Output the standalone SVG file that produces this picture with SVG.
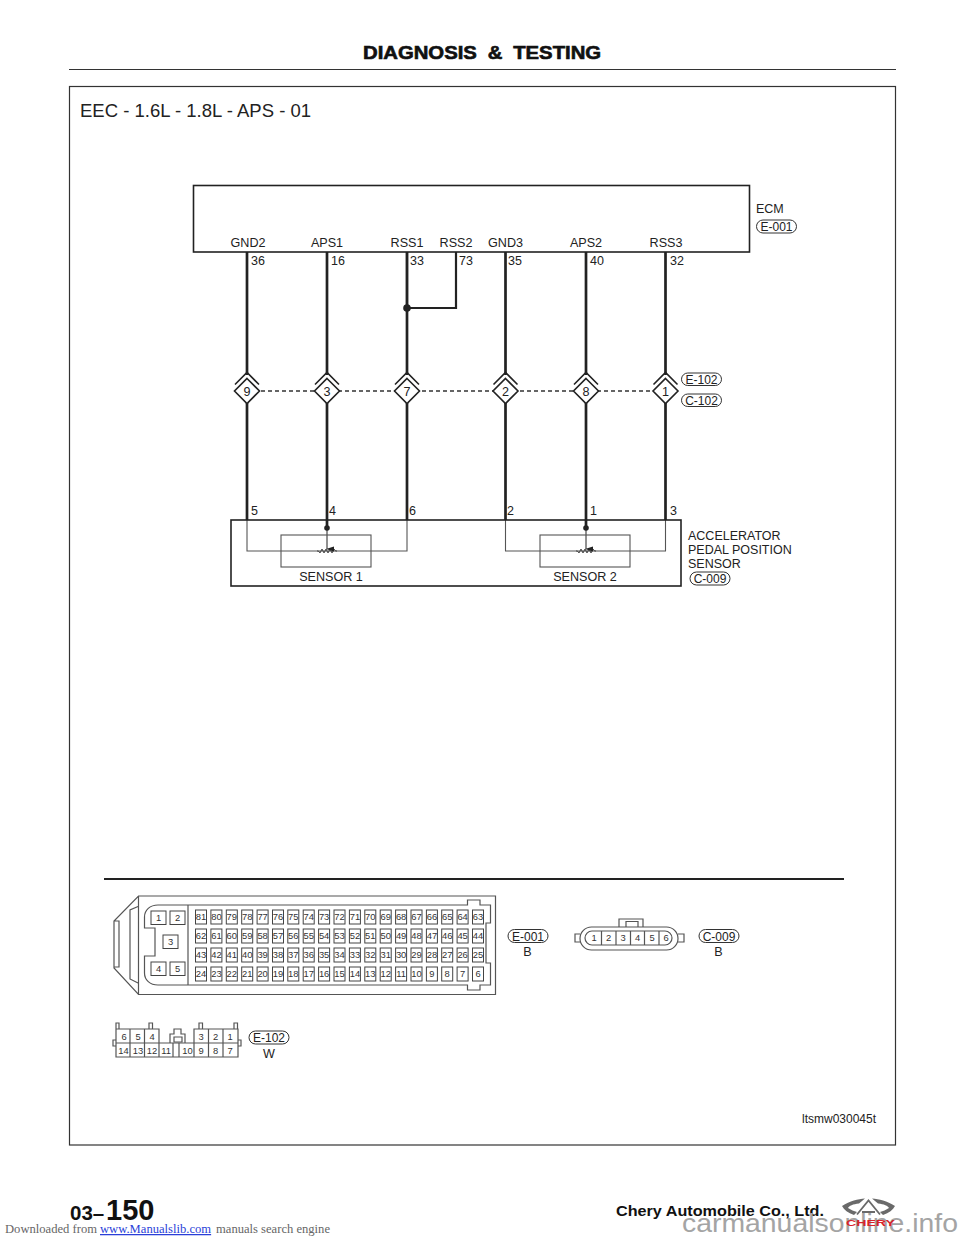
<svg xmlns="http://www.w3.org/2000/svg" width="960" height="1242" viewBox="0 0 960 1242">
<style>
text{font-family:"Liberation Sans",Arial,sans-serif;fill:#222}
.l{font-size:12.5px}
.p{font-size:9.4px;text-anchor:middle;fill:#333}
.m{font-size:12.6px;text-anchor:middle}
.q{font-size:12px;text-anchor:middle}
.w{fill:none;stroke:#222;stroke-width:2.700}
.t{fill:none;stroke:#333;stroke-width:1}
.g{fill:none;stroke:#555;stroke-width:1.1}
.d{fill:#fff;stroke:#222;stroke-width:1.6}
.c{fill:none;stroke:#222;stroke-width:1.6}
.b{fill:#fff;stroke:#444;stroke-width:1}
.f{fill:none;stroke:#555;stroke-width:1.2}
</style>
<defs>
<rect id="pin" x="-5.5" y="-7" width="11" height="14" class="b"/>
<path id="dia" d="M0-12.5 12.5 0 0 12.5-12.5 0Z" class="d"/>
<path id="chev" d="M-12-6.500-.0-18.500 12-6.500" class="c"/>
<marker id="ah" markerUnits="userSpaceOnUse" markerWidth="6" markerHeight="8" refX="3" refY="7" orient="auto"><path d="M.5 0H5.500L3 8Z" fill="#222"/></marker>
</defs>
<rect width="960" height="1242" fill="#fff"/>
<g id="page">
<text transform="translate(363 58.500) scale(1.160 1)" font-size="17.500" font-weight="700" word-spacing="4.500" stroke="#111" stroke-width=".6" style="fill:#111">DIAGNOSIS &amp; TESTING</text>
<path d="M69 69.500H896" stroke="#333" stroke-width="1.200"/>
<rect x="69.500" y="86.500" width="826" height="1058.500" fill="none" stroke="#333" stroke-width="1.200"/>
<text x="80" y="117" font-size="18.500">EEC - 1.6L - 1.8L - APS - 01</text>
<path d="M104 879H844" stroke="#222" stroke-width="2"/>
<text x="802" y="1123" font-size="12">ltsmw030045t</text>
<text x="70" y="1220" font-size="20.500" font-weight="700" style="fill:#111">03–</text>
<text x="106" y="1220" font-size="29" font-weight="700" style="fill:#111">150</text>
<text x="616" y="1216" font-size="14.500" font-weight="700" style="fill:#111" textLength="208" lengthAdjust="spacingAndGlyphs">Chery Automobile Co., Ltd.</text>
<text x="5" y="1233" font-size="12.600" style="font-family:'Liberation Serif',serif;fill:#666">Downloaded from</text>
<text x="100" y="1233" font-size="12.600" style="font-family:'Liberation Serif',serif;fill:#2a3fd8" text-decoration="underline">www.Manualslib.com</text>
<text x="216" y="1233" font-size="12.600" style="font-family:'Liberation Serif',serif;fill:#666">manuals search engine</text>
</g>
<text x="682" y="1232" font-size="26.500" textLength="276" lengthAdjust="spacingAndGlyphs" style="fill:#a4a4a4">carmanualsonline.info</text>
<g id="logo">
<path d="M842 1206C850 1201 858 1199 865 1198.500L859 1203.500C853 1204 849 1206 848 1208 851 1210 854 1211 857 1212L854 1215C848 1213 844 1210 842 1206ZM895 1206C887 1201 879 1199 872 1198.500L878 1203.500C884 1204 888 1206 889 1208 886 1210 883 1211 880 1212L883 1215C889 1213 893 1210 895 1206Z" fill="#6a6a6a"/>
<path d="M857 1214.500 868.500 1200.500 880 1214.500M862 1212H875" fill="none" stroke="#6a6a6a" stroke-width="1.800"/>
<text x="846" y="1226" font-size="9.500" font-weight="700" textLength="49" lengthAdjust="spacingAndGlyphs" style="fill:#d8232a">CHERY</text>
</g>
<g id="connectors">
<path class="w" d="M247 252V375M327 252V375M407 252V375M505.500 252V375M586 252V375M665.500 252V375M247 403V520M327 403V528M407 403V520M505.500 403V520M586 403V528M665.500 403V520"/>
<path d="M407 252V308H456V252" fill="none" stroke="#222" stroke-width="2.200"/>
<circle cx="407" cy="308" r="3.800" fill="#222"/>
<path d="M247 391H665" fill="none" stroke="#333" stroke-width="1.300" stroke-dasharray="4 3"/>
<path class="g" d="M247 520V551H407V520M505.500 520V551H665.500V520"/>
<circle cx="327" cy="528" r="2.800" fill="#222"/>
<circle cx="586" cy="528" r="2.800" fill="#222"/>
<path d="M327 528V549" fill="none" stroke="#222" stroke-width="1" marker-end="url(#ah)"/>
<path d="M586 528V549" fill="none" stroke="#222" stroke-width="1" marker-end="url(#ah)"/>
</g>
<g id="ecm">
<rect x="193.500" y="185.500" width="556" height="66.500" fill="none" stroke="#222" stroke-width="1.600"/>
<text class="m" x="248" y="247">GND2</text><text class="m" x="327" y="247">APS1</text><text class="m" x="407" y="247">RSS1</text><text class="m" x="456" y="247">RSS2</text><text class="m" x="505.500" y="247">GND3</text><text class="m" x="586" y="247">APS2</text><text class="m" x="666" y="247">RSS3</text>
<text class="l" x="251" y="265">36</text><text class="l" x="331" y="265">16</text><text class="l" x="410" y="265">33</text><text class="l" x="459" y="265">73</text><text class="l" x="508" y="265">35</text><text class="l" x="590" y="265">40</text><text class="l" x="670" y="265">32</text>
<text class="l" x="756" y="213">ECM</text>
<rect x="756.500" y="220" width="40" height="13" rx="6.500" class="t"/><text class="q" x="776.500" y="231">E-001</text>
</g>
<g id="j9"><use href="#chev" x="247" y="391"/><use href="#dia" x="247" y="391"/><text class="m" x="247" y="396">9</text></g>
<g id="j3"><use href="#chev" x="327" y="391"/><use href="#dia" x="327" y="391"/><text class="m" x="327" y="396">3</text></g>
<g id="j7"><use href="#chev" x="407" y="391"/><use href="#dia" x="407" y="391"/><text class="m" x="407" y="396">7</text></g>
<g id="j2"><use href="#chev" x="505.500" y="391"/><use href="#dia" x="505.500" y="391"/><text class="m" x="505.500" y="396">2</text></g>
<g id="j8"><use href="#chev" x="586" y="391"/><use href="#dia" x="586" y="391"/><text class="m" x="586" y="396">8</text></g>
<g id="j1"><use href="#chev" x="665.500" y="391"/><use href="#dia" x="665.500" y="391"/><text class="m" x="665.500" y="396">1</text></g>
<g id="e102-label"><rect x="681.500" y="373" width="40" height="12.500" rx="6.250" class="t"/><text class="q" x="701.500" y="383.700">E-102</text></g>
<g id="c102-label"><rect x="681.500" y="394" width="40" height="12.500" rx="6.250" class="t"/><text class="q" x="701.500" y="404.700">C-102</text></g>
<g id="aps">
<rect x="231" y="520" width="450" height="66" fill="none" stroke="#222" stroke-width="1.600"/>
<rect x="281" y="535" width="90" height="32" class="g"/>
<rect x="540" y="535" width="90" height="32" class="g"/>
<path d="M317 551h1.500l1.500 2 2-4 2 4 2-4 2 4 2-4 2 4 2-4 1.500 2h1.500M576 551h1.500l1.500 2 2-4 2 4 2-4 2 4 2-4 2 4 2-4 1.500 2h1.500" fill="none" stroke="#222" stroke-width=".8"/>
<text class="l" x="251" y="515">5</text><text class="l" x="329" y="515">4</text><text class="l" x="409" y="515">6</text><text class="l" x="507" y="515">2</text><text class="l" x="590" y="515">1</text><text class="l" x="670" y="515">3</text>
<text class="m" x="331" y="581">SENSOR 1</text><text class="m" x="585" y="581">SENSOR 2</text>
<text class="l" x="688" y="540">ACCELERATOR</text><text class="l" x="688" y="554">PEDAL POSITION</text><text class="l" x="688" y="568">SENSOR</text>
<rect x="690" y="572" width="40" height="13" rx="6.500" class="t"/><text class="q" x="710" y="583">C-009</text>
</g>
<g id="conn-e001">
<path class="f" d="M138.500 896H495.500V994.500H138.500L114 968V921L138.500 896ZM138.500 896V994.500M114 921H119V967H114M138 906.500L130 910V979L138 983"/>
<path class="f" d="M158 905H467.500V900H480V905H490.500V923H486V963H490.500V985H480V990H467.500V985H158C150 985 144.500 980 144.500 973V956H155V928H144.500V917C144.500 910 150 905 158 905ZM188 905V985"/>
<g class="b">
<rect x="151" y="911" width="15" height="13.500"/><rect x="170" y="911" width="15" height="13.500"/><rect x="163" y="935" width="15" height="13.500"/><rect x="151" y="962" width="15" height="13.500"/><rect x="170" y="962" width="15" height="13.500"/>
</g>
<text class="p" x="158.500" y="921">1</text><text class="p" x="177.500" y="921">2</text><text class="p" x="170.500" y="945">3</text><text class="p" x="158.500" y="972">4</text><text class="p" x="177.500" y="972">5</text>
<g id="pins-boxes">
<use href="#pin" x="201" y="917"/><use href="#pin" x="216.400" y="917"/><use href="#pin" x="231.800" y="917"/><use href="#pin" x="247.200" y="917"/><use href="#pin" x="262.600" y="917"/><use href="#pin" x="278" y="917"/><use href="#pin" x="293.300" y="917"/><use href="#pin" x="308.700" y="917"/><use href="#pin" x="324.100" y="917"/><use href="#pin" x="339.500" y="917"/><use href="#pin" x="354.900" y="917"/><use href="#pin" x="370.300" y="917"/><use href="#pin" x="385.700" y="917"/><use href="#pin" x="401.100" y="917"/><use href="#pin" x="416.500" y="917"/><use href="#pin" x="431.900" y="917"/><use href="#pin" x="447.200" y="917"/><use href="#pin" x="462.600" y="917"/><use href="#pin" x="478" y="917"/>
<use href="#pin" x="201" y="936"/><use href="#pin" x="216.400" y="936"/><use href="#pin" x="231.800" y="936"/><use href="#pin" x="247.200" y="936"/><use href="#pin" x="262.600" y="936"/><use href="#pin" x="278" y="936"/><use href="#pin" x="293.300" y="936"/><use href="#pin" x="308.700" y="936"/><use href="#pin" x="324.100" y="936"/><use href="#pin" x="339.500" y="936"/><use href="#pin" x="354.900" y="936"/><use href="#pin" x="370.300" y="936"/><use href="#pin" x="385.700" y="936"/><use href="#pin" x="401.100" y="936"/><use href="#pin" x="416.500" y="936"/><use href="#pin" x="431.900" y="936"/><use href="#pin" x="447.200" y="936"/><use href="#pin" x="462.600" y="936"/><use href="#pin" x="478" y="936"/>
<use href="#pin" x="201" y="955"/><use href="#pin" x="216.400" y="955"/><use href="#pin" x="231.800" y="955"/><use href="#pin" x="247.200" y="955"/><use href="#pin" x="262.600" y="955"/><use href="#pin" x="278" y="955"/><use href="#pin" x="293.300" y="955"/><use href="#pin" x="308.700" y="955"/><use href="#pin" x="324.100" y="955"/><use href="#pin" x="339.500" y="955"/><use href="#pin" x="354.900" y="955"/><use href="#pin" x="370.300" y="955"/><use href="#pin" x="385.700" y="955"/><use href="#pin" x="401.100" y="955"/><use href="#pin" x="416.500" y="955"/><use href="#pin" x="431.900" y="955"/><use href="#pin" x="447.200" y="955"/><use href="#pin" x="462.600" y="955"/><use href="#pin" x="478" y="955"/>
<use href="#pin" x="201" y="974"/><use href="#pin" x="216.400" y="974"/><use href="#pin" x="231.800" y="974"/><use href="#pin" x="247.200" y="974"/><use href="#pin" x="262.600" y="974"/><use href="#pin" x="278" y="974"/><use href="#pin" x="293.300" y="974"/><use href="#pin" x="308.700" y="974"/><use href="#pin" x="324.100" y="974"/><use href="#pin" x="339.500" y="974"/><use href="#pin" x="354.900" y="974"/><use href="#pin" x="370.300" y="974"/><use href="#pin" x="385.700" y="974"/><use href="#pin" x="401.100" y="974"/><use href="#pin" x="416.500" y="974"/><use href="#pin" x="431.900" y="974"/><use href="#pin" x="447.200" y="974"/><use href="#pin" x="462.600" y="974"/><use href="#pin" x="478" y="974"/>
</g>
<g id="pins-text">
<text class="p" x="201" y="920.300">81</text><text class="p" x="216.400" y="920.300">80</text><text class="p" x="231.800" y="920.300">79</text><text class="p" x="247.200" y="920.300">78</text><text class="p" x="262.600" y="920.300">77</text><text class="p" x="278" y="920.300">76</text><text class="p" x="293.300" y="920.300">75</text><text class="p" x="308.700" y="920.300">74</text><text class="p" x="324.100" y="920.300">73</text><text class="p" x="339.500" y="920.300">72</text><text class="p" x="354.900" y="920.300">71</text><text class="p" x="370.300" y="920.300">70</text><text class="p" x="385.700" y="920.300">69</text><text class="p" x="401.100" y="920.300">68</text><text class="p" x="416.500" y="920.300">67</text><text class="p" x="431.900" y="920.300">66</text><text class="p" x="447.200" y="920.300">65</text><text class="p" x="462.600" y="920.300">64</text><text class="p" x="478" y="920.300">63</text>
<text class="p" x="201" y="939.300">62</text><text class="p" x="216.400" y="939.300">61</text><text class="p" x="231.800" y="939.300">60</text><text class="p" x="247.200" y="939.300">59</text><text class="p" x="262.600" y="939.300">58</text><text class="p" x="278" y="939.300">57</text><text class="p" x="293.300" y="939.300">56</text><text class="p" x="308.700" y="939.300">55</text><text class="p" x="324.100" y="939.300">54</text><text class="p" x="339.500" y="939.300">53</text><text class="p" x="354.900" y="939.300">52</text><text class="p" x="370.300" y="939.300">51</text><text class="p" x="385.700" y="939.300">50</text><text class="p" x="401.100" y="939.300">49</text><text class="p" x="416.500" y="939.300">48</text><text class="p" x="431.900" y="939.300">47</text><text class="p" x="447.200" y="939.300">46</text><text class="p" x="462.600" y="939.300">45</text><text class="p" x="478" y="939.300">44</text>
<text class="p" x="201" y="958.300">43</text><text class="p" x="216.400" y="958.300">42</text><text class="p" x="231.800" y="958.300">41</text><text class="p" x="247.200" y="958.300">40</text><text class="p" x="262.600" y="958.300">39</text><text class="p" x="278" y="958.300">38</text><text class="p" x="293.300" y="958.300">37</text><text class="p" x="308.700" y="958.300">36</text><text class="p" x="324.100" y="958.300">35</text><text class="p" x="339.500" y="958.300">34</text><text class="p" x="354.900" y="958.300">33</text><text class="p" x="370.300" y="958.300">32</text><text class="p" x="385.700" y="958.300">31</text><text class="p" x="401.100" y="958.300">30</text><text class="p" x="416.500" y="958.300">29</text><text class="p" x="431.900" y="958.300">28</text><text class="p" x="447.200" y="958.300">27</text><text class="p" x="462.600" y="958.300">26</text><text class="p" x="478" y="958.300">25</text>
<text class="p" x="201" y="977.300">24</text><text class="p" x="216.400" y="977.300">23</text><text class="p" x="231.800" y="977.300">22</text><text class="p" x="247.200" y="977.300">21</text><text class="p" x="262.600" y="977.300">20</text><text class="p" x="278" y="977.300">19</text><text class="p" x="293.300" y="977.300">18</text><text class="p" x="308.700" y="977.300">17</text><text class="p" x="324.100" y="977.300">16</text><text class="p" x="339.500" y="977.300">15</text><text class="p" x="354.900" y="977.300">14</text><text class="p" x="370.300" y="977.300">13</text><text class="p" x="385.700" y="977.300">12</text><text class="p" x="401.100" y="977.300">11</text><text class="p" x="416.500" y="977.300">10</text><text class="p" x="431.900" y="977.300">9</text><text class="p" x="447.200" y="977.300">8</text><text class="p" x="462.600" y="977.300">7</text><text class="p" x="478" y="977.300">6</text>
</g>
<rect x="508" y="929.500" width="40" height="13" rx="6.500" class="t"/><text class="q" x="528" y="940.500">E-001</text><text class="m" x="527.500" y="956">B</text>
</g>
<g id="conn-c009">
<path class="f" d="M619 927V919H643V927M626 927V921.500H638V927M580 934H575V942H580M678 934H684V942H678"/>
<rect x="580" y="927" width="98" height="23" rx="11.500" class="f"/>
<rect x="585" y="931" width="87" height="14" rx="7" class="f"/>
<path class="f" d="M601.500 931V945M616 931V945M630.500 931V945M644.500 931V945M659 931V945"/>
<text class="p" x="594" y="941.300">1</text><text class="p" x="608.500" y="941.300">2</text><text class="p" x="623" y="941.300">3</text><text class="p" x="637.500" y="941.300">4</text><text class="p" x="652" y="941.300">5</text><text class="p" x="666" y="941.300">6</text>
<rect x="699" y="929.500" width="40" height="13" rx="6.500" class="t"/><text class="q" x="719" y="940.500">C-009</text><text class="m" x="718.500" y="956">B</text>
</g>
<g id="conn-e102">
<path class="f" d="M116 1029H159V1043H116ZM116 1043H173V1057H116ZM130 1029V1057M144.500 1029V1057M159 1043V1057M194 1029H238V1057H179V1043H194ZM194 1043H238M208.500 1029V1057M223 1029V1057M194 1043V1057M173 1043H179M173 1057V1043M179 1057V1043M173 1057H179M116 1040H113V1046H116M238 1040H241V1046H238M116 1029V1023H119V1029M149 1029V1023H152.500V1029M199 1029V1023H202.500V1029M234 1029V1023H237.500V1029"/>
<path class="f" d="M170 1043V1034H174V1029H181V1034H185V1043M174 1037H182V1042H174Z"/>
<text class="p" x="124" y="1040">6</text><text class="p" x="138" y="1040">5</text><text class="p" x="152" y="1040">4</text><text class="p" x="201" y="1040">3</text><text class="p" x="215.500" y="1040">2</text><text class="p" x="230" y="1040">1</text>
<text class="p" x="123.500" y="1054">14</text><text class="p" x="138" y="1054">13</text><text class="p" x="152" y="1054">12</text><text class="p" x="166" y="1054">11</text><text class="p" x="187.500" y="1054">10</text><text class="p" x="201" y="1054">9</text><text class="p" x="215.500" y="1054">8</text><text class="p" x="230" y="1054">7</text>
<rect x="249" y="1031" width="40" height="13" rx="6.500" class="t"/><text class="q" x="269" y="1042">E-102</text><text class="m" x="269" y="1058">W</text>
</g>
</svg>
